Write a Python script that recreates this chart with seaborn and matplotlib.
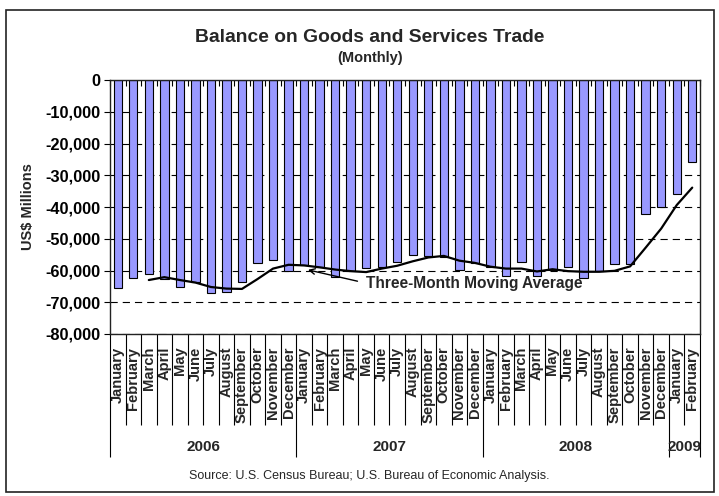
import numpy as np
import pandas as pd
import matplotlib
matplotlib.use("Agg")
import matplotlib.pyplot as plt
from matplotlib.patches import Rectangle
from matplotlib.ticker import FuncFormatter
import seaborn as sns

# Monthly balance on goods and services (US$ millions)
months = ["January", "February", "March", "April", "May", "June", "July",
          "August", "September", "October", "November", "December"]
years = ["2006", "2007", "2008", "2009"]
months_per_year = [12, 12, 12, 2]

balance = [
    -65600, -62300, -61200, -62700, -65100, -63500, -67000, -66700, -63700, -57700, -56700, -60200,
    -58300, -58800, -62100, -60000, -59300, -59000, -57200, -55100, -55400, -55800, -59800, -57500,
    -59000, -61700, -57400, -61700, -59800, -59000, -62300, -60000, -58100, -58100, -42300, -39900,
    -36000, -25800,
]

# Three-month moving average, starting with March 2006
moving_avg = [
    -63000, -62100, -63000, -63800, -65200, -65700, -65800, -62700, -59400, -58200,
    -58400, -59000, -59700, -60200, -60500, -59400, -58500, -57100, -55900, -55400, -56900, -57600,
    -58800, -59400, -59400, -60300, -59600, -60200, -60400, -60400, -60100, -58700, -52800, -46800,
    -39400, -33900,
]

month_labels = [m for n in months_per_year for m in months[:n]]
n = len(balance)

bars = pd.DataFrame({"pos": np.arange(n), "balance": balance})
avg = pd.DataFrame({"pos": np.arange(n - len(moving_avg), n), "avg": moving_avg})

sns.set_theme(style="white")
plt.rcParams["font.family"] = ["Liberation Sans", "DejaVu Sans"]

W, H = 719, 496
fig = plt.figure(figsize=(W / 100, H / 100), dpi=100)
ax = fig.add_axes([110 / W, 1 - 334 / H, 590 / W, 254 / H])

sns.barplot(data=bars, x="pos", y="balance", ax=ax, color="#9999FF",
            saturation=1, width=0.54, edgecolor="black", linewidth=0.8)
sns.lineplot(data=avg, x="pos", y="avg", ax=ax, color="black", linewidth=1.6)

ax.set_xlim(-0.5, n - 0.5)
ax.set_ylim(-80000, 0)
ax.set_yticks(np.arange(-80000, 1, 10000))
ax.yaxis.set_major_formatter(FuncFormatter(lambda v, p: f"{int(v):,}"))
ax.set_xlabel("")
ax.set_ylabel("")

ax.yaxis.grid(True, color="black", linestyle=(0, (6.5, 4.5)), linewidth=0.8)
ax.xaxis.grid(False)
ax.set_axisbelow(True)

for s in ax.spines.values():
    s.set_visible(True)
    s.set_color("#222222")
    s.set_linewidth(1.0)

ax.tick_params(axis="y", left=True, direction="out", length=4, width=0.8,
               labelsize=11.8, pad=3, colors="black")
for t in ax.get_yticklabels():
    t.set_fontweight("bold")

ax.set_xticks(np.arange(n))
ax.set_xticklabels(month_labels, rotation=90, fontweight="bold", fontsize=10.6)
ax.tick_params(axis="x", which="major", bottom=False, top=False, length=0, pad=9)
ax.set_xticks(np.arange(-0.5, n, 1), minor=True)
ax.tick_params(axis="x", which="minor", top=True, bottom=False, direction="in",
               length=4, width=0.8, color="black")

# Category separators below the plot: month boundaries and longer year boundaries
trans = ax.get_xaxis_transform()
bounds = np.arange(-0.5, n, 1)
year_edges = np.concatenate([[-0.5], np.cumsum(months_per_year) - 0.5])
ax.vlines([b for b in bounds if b not in year_edges], 0, -0.358, transform=trans,
          color="black", linewidth=0.8, clip_on=False)
ax.vlines(year_edges, 0, -0.484, transform=trans, color="black",
          linewidth=0.8, clip_on=False)
for y, a, b in zip(years, year_edges[:-1], year_edges[1:]):
    ax.text((a + b) / 2, -0.445, y, transform=trans, ha="center", va="center",
            fontsize=11, fontweight="bold")

ax.annotate("Three-Month Moving Average", xy=(12.25, -59800), xytext=(16.0, -64000),
            ha="left", va="center", fontsize=11.2, fontweight="bold", zorder=6,
            arrowprops=dict(arrowstyle="->", color="black", lw=1.0,
                            relpos=(0, 0.5), shrinkA=4, shrinkB=0,
                            mutation_scale=10))

fig.text(370 / W, 1 - 37 / H, "Balance on Goods and Services Trade",
         ha="center", va="center", fontsize=13.9, fontweight="bold")
fig.text(370 / W, 1 - 58 / H, "(Monthly)", ha="center", va="center",
         fontsize=10.5, fontweight="bold")
fig.text(28 / W, 1 - 207 / H, "US$ Millions", rotation=90, ha="center",
         va="center", fontsize=10.5, fontweight="bold")
fig.text(369 / W, 1 - 476 / H,
         "Source: U.S. Census Bureau; U.S. Bureau of Economic Analysis.",
         ha="center", va="center", fontsize=9)

fig.patches.append(Rectangle((6 / W, 1 - 492 / H), 708 / W, 482 / H,
                             transform=fig.transFigure, fill=False,
                             edgecolor="#222222", linewidth=1.2))

fig.savefig("out.png", dpi=100)
